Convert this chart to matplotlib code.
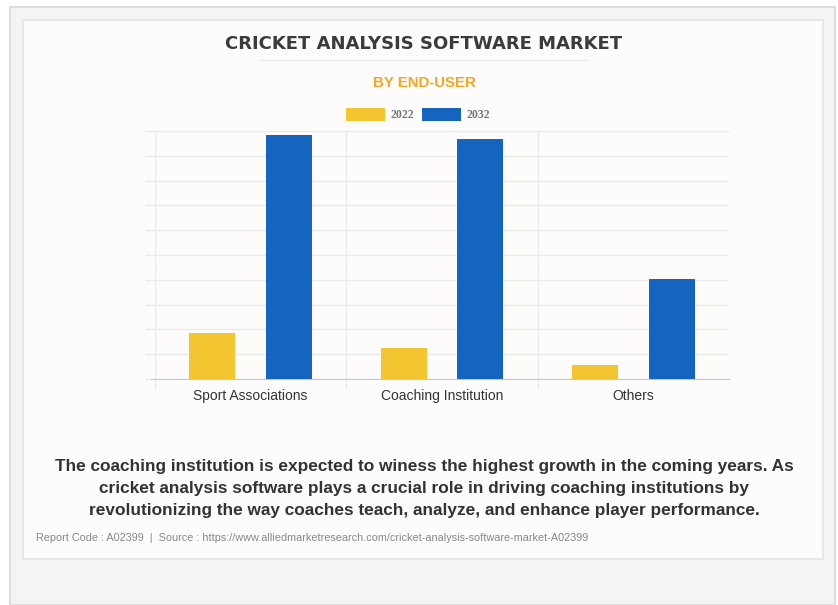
import numpy as np
import matplotlib
matplotlib.use("Agg")
import matplotlib.pyplot as plt
from matplotlib.patches import Rectangle
from matplotlib.lines import Line2D

categories = ["Sport Associations", "Coaching Institution", "Others"]
years = ["2022", "2032"]
values_2022 = [1.85, 1.25, 0.57]
values_2032 = [9.83, 9.67, 4.05]

title = "CRICKET ANALYSIS SOFTWARE MARKET"
subtitle = "BY END-USER"
note = ("The coaching institution is expected to winess the highest growth in the coming years. As\n"
        "cricket analysis software plays a crucial role in driving coaching institutions by\n"
        "revolutionizing the way coaches teach, analyze, and enhance player performance.")
source = "Report Code : A02399  |  Source : https://www.alliedmarketresearch.com/cricket-analysis-software-market-A02399"

c_yellow = "#f3c530"
c_blue = "#1565c0"

W, H = 838, 605
fig = plt.figure(figsize=(W / 100, H / 100), dpi=100)
fig.patch.set_facecolor("white")

def px(x, y):
    # pixel coords (from top-left) -> figure fraction
    return x / W, 1 - y / H

# outer panel and white card
x0, y0 = px(10, 7)
fig.patches.append(Rectangle((x0, 0), (835 - 10) / W, y0, transform=fig.transFigure,
                             facecolor="#f4f4f4", edgecolor="#dedede", lw=1.5, zorder=0))
x1, y1 = px(23, 559)
fig.patches.append(Rectangle((x1, y1), (823 - 23) / W, (559 - 20) / H, transform=fig.transFigure,
                             facecolor="#fdfcfb", edgecolor="#e4e4e4", lw=1.2, zorder=1))

# titles
fig.text(*px(424, 44), title, ha="center", va="center", fontsize=13, fontweight="bold",
         color="#3b3b3b", family="DejaVu Sans", zorder=3)
fig.add_artist(Line2D([259 / W, 588 / W], [1 - 60 / H] * 2, color="#ececec", lw=1, zorder=3))
fig.text(*px(424, 83), subtitle, ha="center", va="center", fontsize=10.8, fontweight="bold",
         color="#f6a623", family="Liberation Sans", zorder=3)

# legend
for i, (yr, col) in enumerate(zip(years, [c_yellow, c_blue])):
    bx = 346 + i * 76
    lx, ly = px(bx, 121)
    fig.patches.append(Rectangle((lx, ly), 39 / W, 13 / H, transform=fig.transFigure,
                                 facecolor=col, edgecolor="none", zorder=3))
    fig.text(*px(bx + 44, 115), yr, ha="left", va="center", fontsize=8.5, fontweight="bold",
             color="#777777", family="Liberation Serif", zorder=3)

# axes
left, right, top, bottom = 155, 729, 131, 379
ax = fig.add_axes([left / W, 1 - bottom / H, (right - left) / W, (bottom - top) / H])
ax.set_facecolor("none")
ax.set_zorder(4)

x = np.arange(len(categories))
bw = 0.24
ax.bar(x - 0.2, values_2022, bw, color=c_yellow, zorder=3)
ax.bar(x + 0.2, values_2032, bw, color=c_blue, zorder=3)

ax.set_xlim(-0.5, 2.5)
ax.set_ylim(0, 10)
ax.set_yticks(np.arange(0, 11))
ax.set_yticklabels([])
ax.tick_params(axis="y", length=7, color="#ebebeb", width=1)
ax.set_xticks(x)
ax.set_xticklabels(categories, fontsize=10, color="#333333", family="Liberation Sans")
ax.tick_params(axis="x", length=0, pad=7)
ax.set_xticks([-0.5, 0.5, 1.5], minor=True)
ax.tick_params(axis="x", which="minor", length=7, color="#ebebeb", width=1)
ax.grid(axis="y", color="#ebebeb", lw=1, zorder=0)
ax.grid(axis="x", which="minor", color="#ebebeb", lw=1, zorder=0)
for s in ["top", "right", "left"]:
    ax.spines[s].set_visible(False)
ax.spines["bottom"].set_color("#c8c8c8")
ax.spines["bottom"].set_bounds(-0.52, 2.5)

# note and source
for k, line in enumerate(note.split("\n")):
    fig.text(*px(424, 466 + 22 * k), line, ha="center", va="center", fontsize=12.4,
             fontweight="bold", color="#333333", family="Liberation Sans", zorder=3)
fig.text(*px(36, 538), source, ha="left", va="center", fontsize=7.8,
         color="#888888", family="Liberation Sans", zorder=3)

fig.savefig("out.png", dpi=100, facecolor=fig.get_facecolor())
